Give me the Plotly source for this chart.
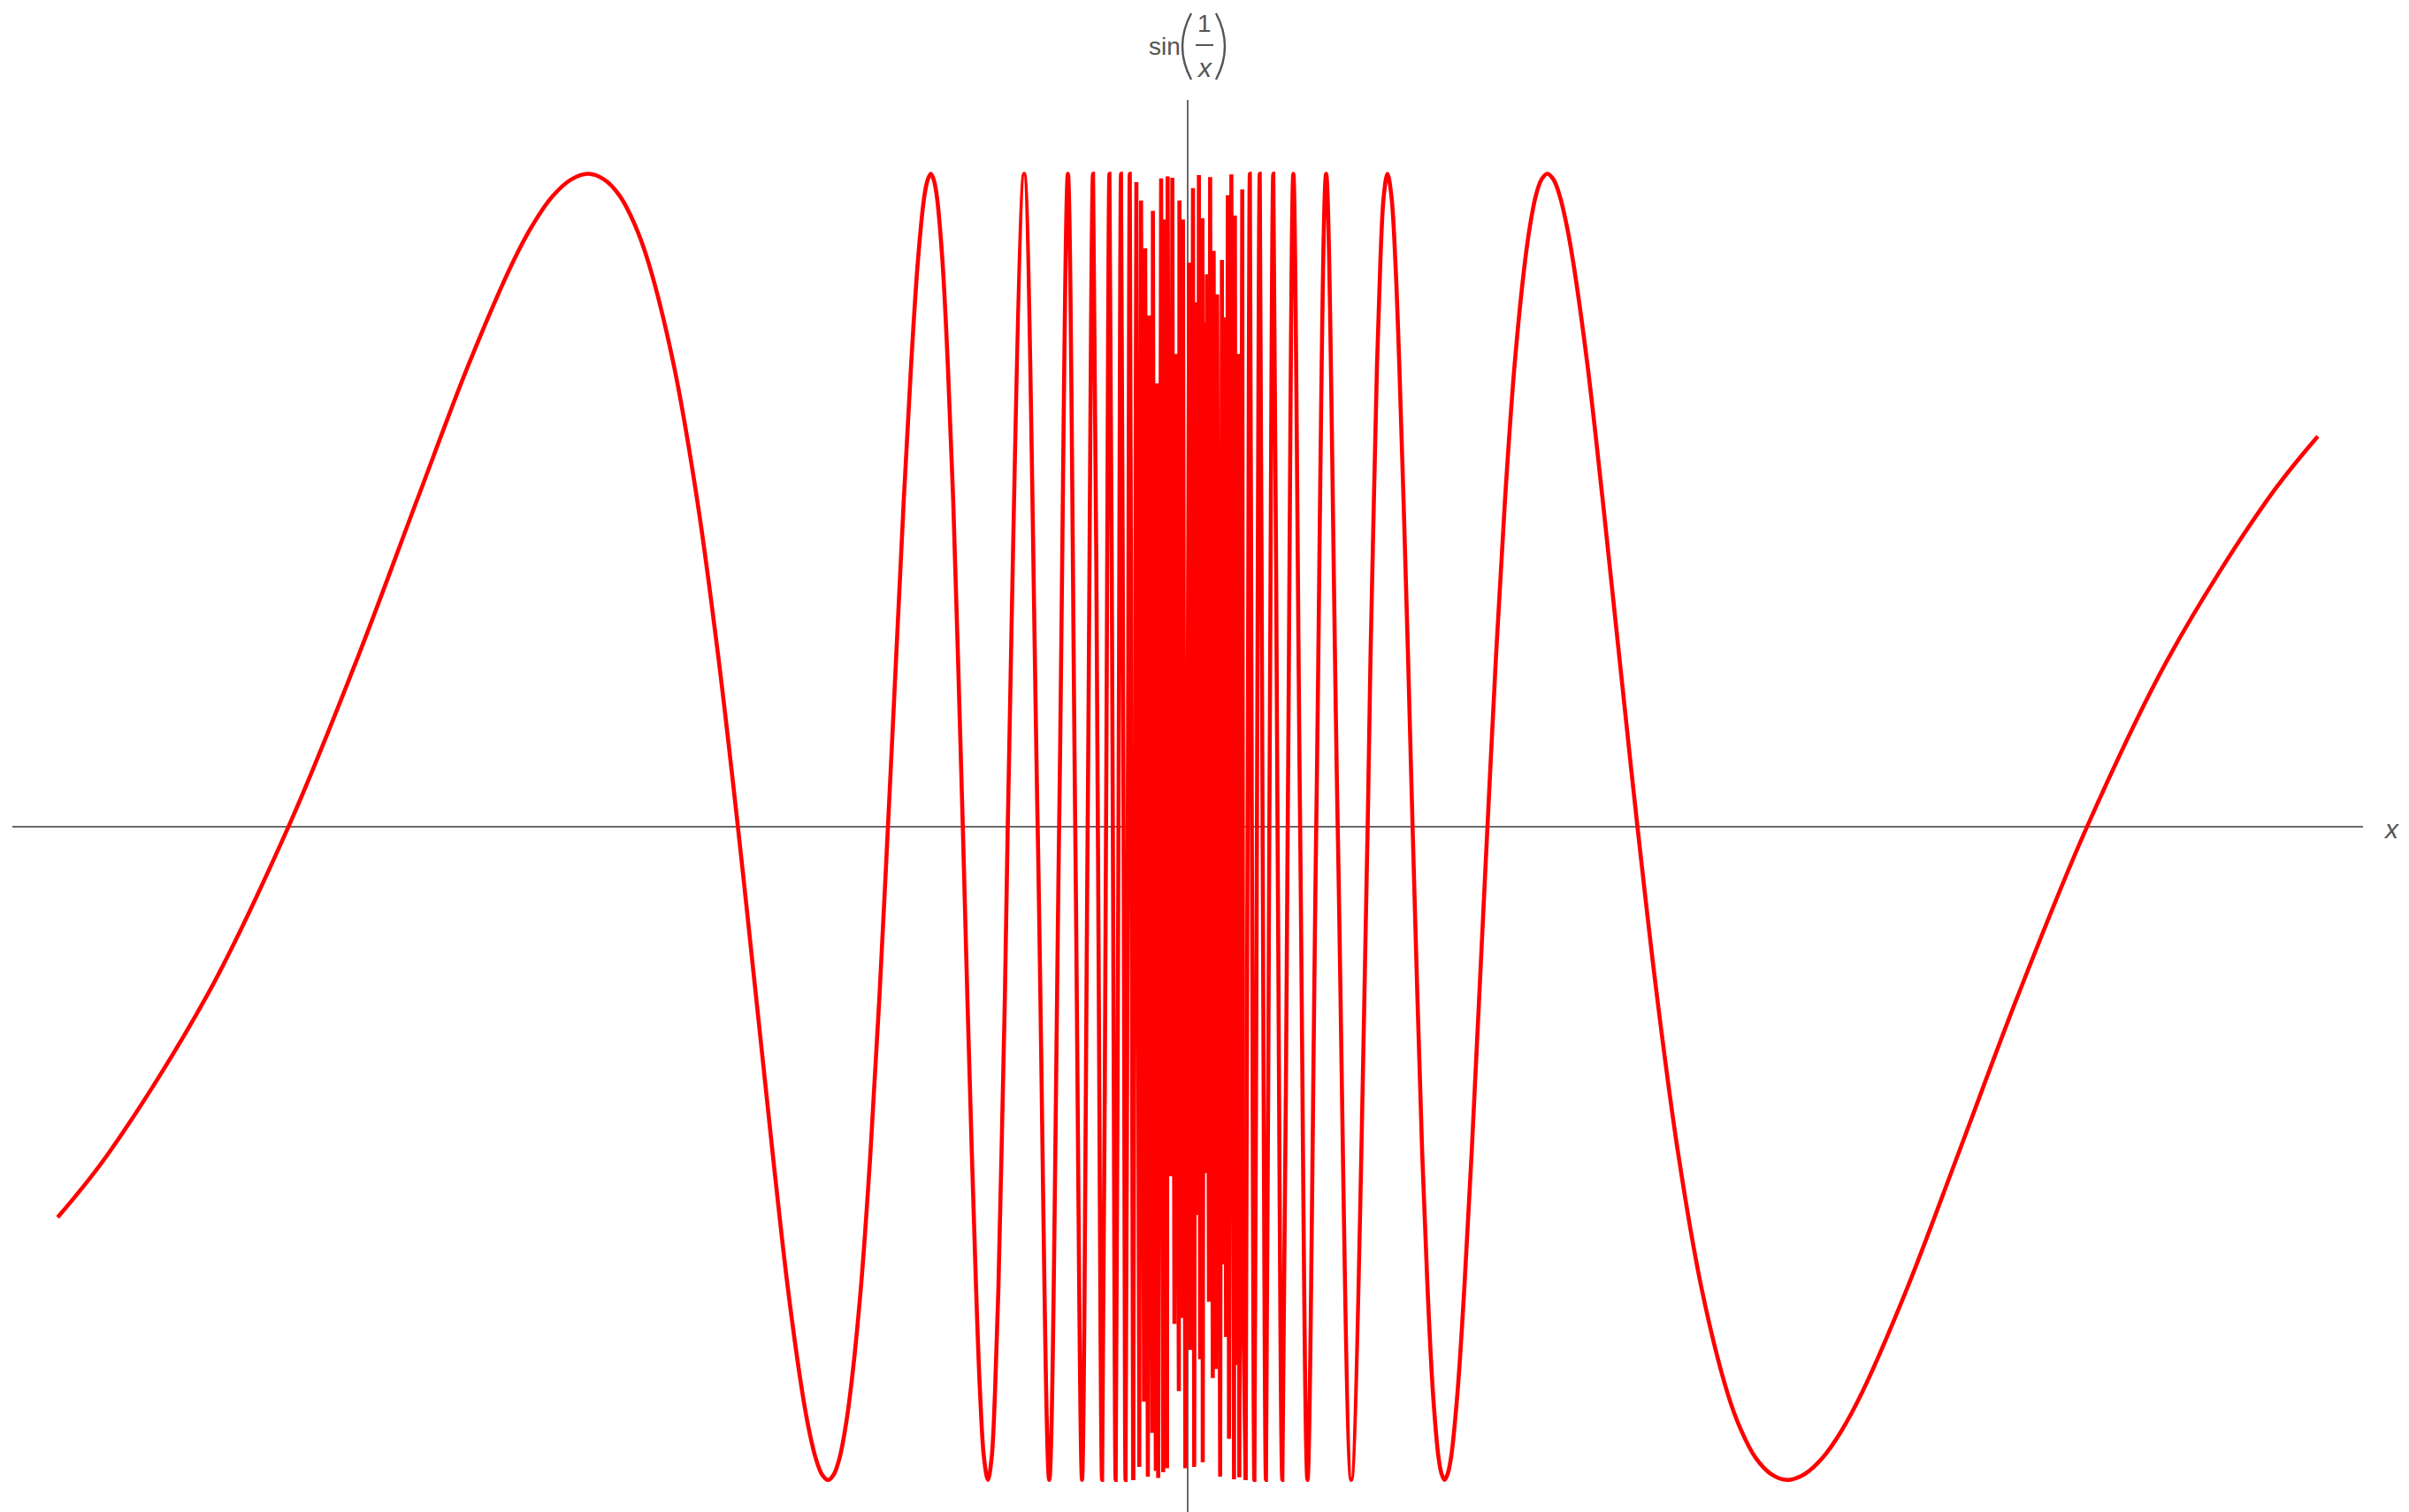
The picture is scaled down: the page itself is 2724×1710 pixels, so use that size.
import plotly.graph_objects as go

# ---- data (x in data units, y values as seen on the curve) ----
# left smooth part (x from -0.4 toward 0)
x_left = [-0.400, -0.3820, -0.3472, -0.3183, -0.2938, -0.2728, -0.2546, -0.2387, -0.2315,
          -0.2247, -0.2183, -0.2122, -0.2065, -0.2010, -0.1959, -0.1910, -0.1819, -0.1736,
          -0.1661, -0.1592, -0.1528, -0.1469, -0.1415, -0.1364, -0.1340, -0.1317, -0.1295,
          -0.1273, -0.1252, -0.1232, -0.1213, -0.1194, -0.1157, -0.1123, -0.1091,
          -0.1061, -0.1032, -0.1005, -0.0979, -0.0955, -0.0932, -0.0920, -0.0909, -0.0899,
          -0.0888, -0.0868,
          -0.0849, -0.0830, -0.0813, -0.0796, -0.0780, -0.0764, -0.0749, -0.0735, -0.0721,
          -0.0707, -0.0694, -0.0682, -0.0670, -0.0659, -0.0647, -0.0637,
          -0.0579, -0.0531, -0.0490, -0.0455, -0.0424, -0.0398, -0.0374, -0.0354,
          -0.0335, -0.0318, -0.0303, -0.0289, -0.0277, -0.0265, -0.0255, -0.0245, -0.0236,
          -0.0227, -0.0220, -0.0212, -0.0205, -0.0199, -0.0193]
y_left = [-0.598, -0.5, -0.259, 0.0, 0.259, 0.5, 0.707, 0.866, 0.924,
          0.966, 0.991, 1.0, 0.991, 0.966, 0.924, 0.866, 0.707, 0.5,
          0.259, 0.0, -0.259, -0.5, -0.707, -0.866, -0.924, -0.966, -0.991,
          -1.0, -0.991, -0.966, -0.924, -0.866, -0.707, -0.5, -0.259,
          0.0, 0.259, 0.5, 0.707, 0.866, 0.966, 0.991, 1.0, 0.991,
          0.966, 0.866,
          0.707, 0.5, 0.259, 0.0, -0.259, -0.5, -0.707, -0.866, -0.966,
          -1.0, -0.966, -0.866, -0.707, -0.5, -0.259, 0.0,
          1.0, 0.0, -1.0, 0.0, 1.0, 0.0, -1.0, 0.0,
          1.0, 0.0, -1.0, 0.0, 1.0, 0.0, -1.0, 0.0, 1.0,
          0.0, -1.0, 0.0, 1.0, 0.0, -1.0]

# dense, under-sampled centre (spikes as drawn)
x_mid = [-0.0193, -0.01817, -0.01713, -0.01650, -0.01546, -0.01504, -0.01410, -0.01358,
         -0.01253, -0.01232, -0.01128, -0.01086, -0.01044, -0.00940, -0.00867, -0.00835,
         -0.00731, -0.00710, -0.00606, -0.00543, -0.00470, -0.00418, -0.00313, -0.00292,
         -0.00188, -0.00167, -0.00084, 0.00052, 0.00084, 0.00188, 0.00230, 0.00292,
         0.00365, 0.00397, 0.00439, 0.00522, 0.00533, 0.00585, 0.00637, 0.00679,
         0.00752, 0.00794, 0.00888, 0.00919, 0.00992, 0.01044, 0.01149, 0.01211,
         0.01253, 0.01316, 0.01358, 0.01420, 0.01462, 0.01546, 0.01640, 0.01671,
         0.01723, 0.01796, 0.01827, 0.01932, 0.01963, 0.0205]
y_mid = [-1.0, 0.987, -0.980, 0.959, -0.880, 0.886, -0.995, 0.783,
         -0.928, 0.943, -0.986, 0.679, -0.997, 0.993, -0.988, 0.930,
         -0.982, 0.996, -0.535, 0.994, -0.761, 0.724, -0.864, 0.959,
         -0.752, 0.930, -0.982, 0.864, -0.801, 0.978, -0.980, 0.803,
         -0.594, 0.998, -0.815, 0.932, -0.973, 0.772, -0.530, 0.846,
         -0.727, 0.995, -0.844, 0.882, -0.830, 0.815, -0.995, 0.868,
         -0.670, 0.780, -0.781, 0.967, -0.937, 0.999, -0.999, 0.936,
         -0.824, 0.724, -0.996, 0.976, -0.729, -1.0]

# right smooth part (x from near 0 to 0.4)
x_right = [0.0205, 0.0212, 0.0220, 0.0227, 0.0236, 0.0245, 0.0255, 0.0265, 0.0277,
           0.0289, 0.0303, 0.0318, 0.0335, 0.0354, 0.0374, 0.0398, 0.0424, 0.0455,
           0.0490, 0.0531, 0.0579,
           0.0637, 0.0647, 0.0659, 0.0670, 0.0682, 0.0694, 0.0707, 0.0721, 0.0735,
           0.0749, 0.0764, 0.0780, 0.0796, 0.0813, 0.0830, 0.0849, 0.0868, 0.0888,
           0.0899, 0.0909, 0.0920, 0.0932, 0.0955, 0.0979, 0.1005, 0.1032, 0.1061,
           0.1091, 0.1123, 0.1157, 0.1194, 0.1213, 0.1232, 0.1252, 0.1273, 0.1295,
           0.1317, 0.1340, 0.1364, 0.1415, 0.1469, 0.1528,
           0.1592, 0.1661, 0.1736, 0.1819, 0.1910, 0.1959, 0.2010, 0.2065, 0.2122,
           0.2183, 0.2247, 0.2315, 0.2387,
           0.2546, 0.2728, 0.2938, 0.3183, 0.3472, 0.3820, 0.400]
y_right = [-1.0, 0.0, 1.0, 0.0, -1.0, 0.0, 1.0, 0.0, -1.0,
           0.0, 1.0, 0.0, -1.0, 0.0, 1.0, 0.0, -1.0, 0.0,
           1.0, 0.0, -1.0,
           0.0, 0.259, 0.5, 0.707, 0.866, 0.966, 1.0, 0.966, 0.866,
           0.707, 0.5, 0.259, 0.0, -0.259, -0.5, -0.707, -0.866, -0.966,
           -0.991, -1.0, -0.991, -0.966, -0.866, -0.707, -0.5, -0.259, 0.0,
           0.259, 0.5, 0.707, 0.866, 0.924, 0.966, 0.991, 1.0, 0.991,
           0.966, 0.924, 0.866, 0.707, 0.5, 0.259,
           0.0, -0.259, -0.5, -0.707, -0.866, -0.924, -0.966, -0.991, -1.0,
           -0.991, -0.966, -0.924, -0.866,
           -0.707, -0.5, -0.259, 0.0, 0.259, 0.5, 0.598]

x_range = [-0.416, 0.416]
y_range = [-1.049, 1.113]

RED = "#ff0000"
AXIS = "#6a6a6a"
TXT = "#555555"
FONT = "Liberation Sans, Arial, sans-serif"

W, H = 2724, 1710
ML, MR, MT, MB = 14, 52, 113, 0
PW, PH = W - ML - MR, H - MT - MB


def px(x):
    return (x - ML) / PW


def py(y):
    return (H - MB - y) / PH


fig = go.Figure()
fig.add_trace(go.Scatter(x=x_left, y=y_left, mode="lines",
                         line=dict(color=RED, width=4.6, shape="spline", smoothing=1.0)))
fig.add_trace(go.Scatter(x=x_mid, y=y_mid, mode="lines", line=dict(color=RED, width=4.6)))
fig.add_trace(go.Scatter(x=x_right, y=y_right, mode="lines",
                         line=dict(color=RED, width=4.6, shape="spline", smoothing=1.0)))

axis_common = dict(showgrid=False, showticklabels=False, ticks="", showline=False,
                   zeroline=True, zerolinecolor=AXIS, zerolinewidth=1.5, fixedrange=True)
fig.update_xaxes(range=x_range, **axis_common)
fig.update_yaxes(range=y_range, **axis_common)

# title sin(1/x) built as a small typeset fraction
ann = [
    dict(text="sin", x=px(1337), y=py(53), xanchor="right", yanchor="middle",
         font=dict(size=28, color=TXT, family=FONT)),
    dict(text="1", x=px(1362), y=py(26), xanchor="center", yanchor="middle",
         font=dict(size=28, color=TXT, family=FONT)),
    dict(text="<i>x</i>", x=px(1362), y=py(76), xanchor="center", yanchor="middle",
         font=dict(size=30, color=TXT, family=FONT)),
    dict(text="<i>x</i>", x=px(2704), y=py(937), xanchor="center", yanchor="middle",
         font=dict(size=30, color=TXT, family=FONT)),
]
for a in ann:
    a.update(xref="paper", yref="paper", showarrow=False)

shapes = [
    dict(type="line", xref="paper", yref="paper", x0=px(1352), x1=px(1372),
         y0=py(51), y1=py(51), line=dict(color=TXT, width=2)),
    dict(type="path", xref="paper", yref="paper",
         path=f"M {px(1347)},{py(15)} Q {px(1327)},{py(52.5)} {px(1347)},{py(90)}",
         line=dict(color=TXT, width=2.4)),
    dict(type="path", xref="paper", yref="paper",
         path=f"M {px(1375)},{py(15)} Q {px(1395)},{py(52.5)} {px(1375)},{py(90)}",
         line=dict(color=TXT, width=2.4)),
]

fig.update_layout(width=W, height=H, margin=dict(l=ML, r=MR, t=MT, b=MB),
                  paper_bgcolor="white", plot_bgcolor="white", showlegend=False,
                  annotations=ann, shapes=shapes)

fig.write_html("out.html", config={"displayModeBar": False},
               post_script="document.body.style.margin='0px';")
